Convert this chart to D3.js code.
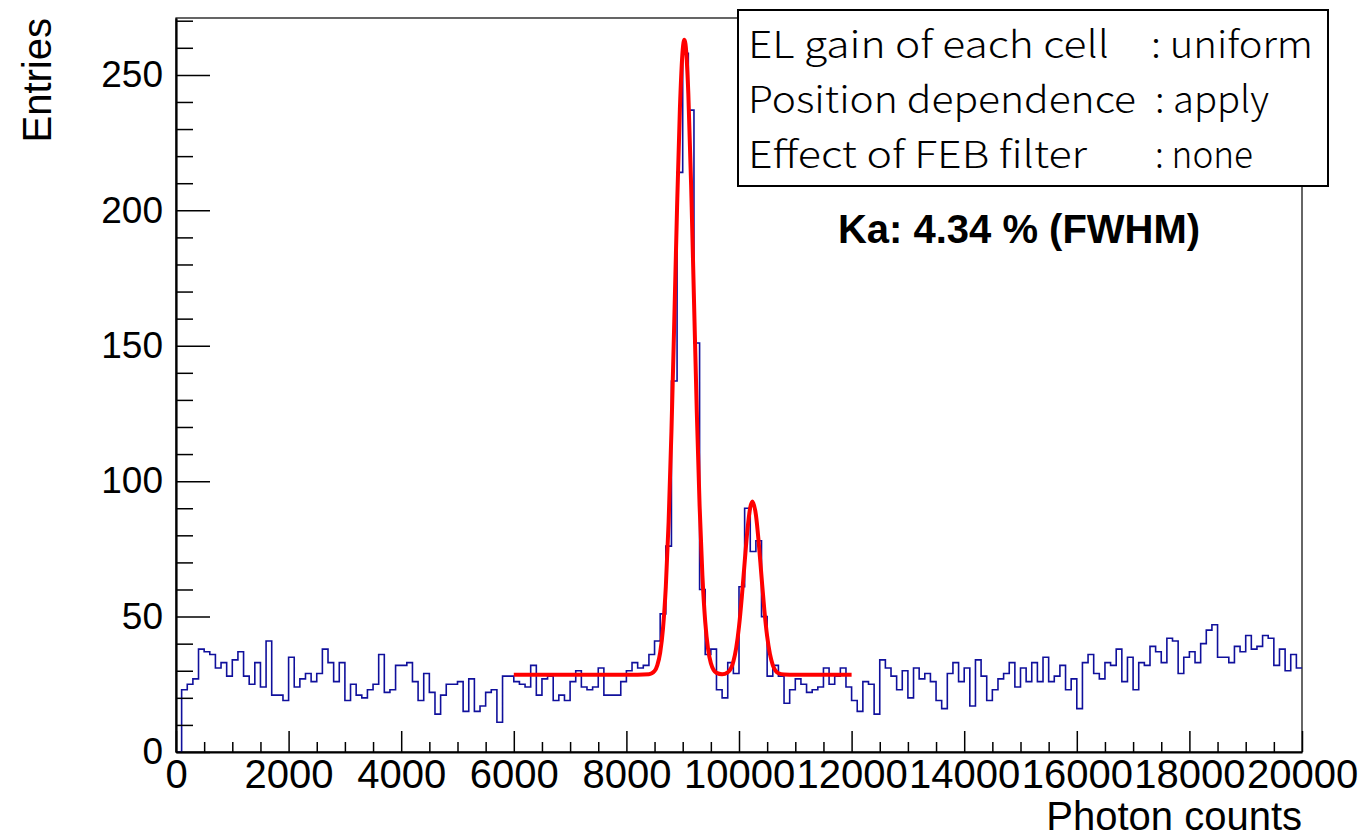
<!DOCTYPE html>
<html>
<head>
<meta charset="utf-8">
<script src="https://cdn.jsdelivr.net/npm/d3@7"></script>
<style>
  body { margin: 0; background: #fff; }
  svg { display: block; }
</style>
</head>
<body>
<svg id="chart" width="1364" height="840"></svg>
<script>
// histogram: 200 bins of 100 photon counts, 0..20000
var binWidth = 100;
var counts = [
  0, 23, 25, 27, 38, 37, 36, 31, 33, 28,
  34, 37, 28, 25, 33, 24, 41, 21, 21, 19,
  35, 24, 27, 29, 26, 29, 38, 33, 26, 33,
  19, 25, 21, 20, 23, 25, 36, 22, 23, 32,
  32, 33, 26, 19, 29, 22, 14, 21, 25, 25,
  26, 15, 27, 15, 17, 22, 23, 11, 28, 28,
  26, 25, 24, 32, 21, 27, 28, 19, 21, 19,
  26, 30, 24, 23, 24, 31, 21, 21, 21, 26,
  30, 33, 31, 32, 36, 41, 51, 76, 137, 214,
  258, 237, 151, 60, 36, 38, 23, 20, 33, 29,
  61, 90, 74, 78, 50, 28, 32, 28, 18, 23,
  27, 25, 22, 23, 24, 31, 25, 28, 31, 24,
  19, 15, 26, 25, 14, 34, 31, 28, 23, 30,
  20, 31, 27, 29, 26, 19, 16, 29, 33, 26,
  31, 17, 34, 28, 19, 23, 27, 29, 33, 24,
  31, 26, 33, 26, 35, 26, 28, 32, 23, 27,
  16, 33, 36, 29, 27, 33, 32, 38, 26, 35,
  23, 33, 32, 39, 37, 33, 42, 41, 29, 35,
  37, 33, 40, 45, 47, 35, 35, 33, 39, 37,
  43, 38, 39, 43, 42, 32, 38, 30, 36, 31
];

// fitted curve
var fitX = [6000, 8000, 8400, 8500, 8550, 8600, 8650, 8700, 8750, 8800,
  8850, 8900, 8950, 9000, 9030, 9050, 9100, 9150, 9200, 9250,
  9300, 9350, 9400, 9450, 9500, 9600, 9700, 9800, 9900, 9950,
  10000, 10050, 10100, 10150, 10200, 10240, 10300, 10350, 10400, 10450,
  10500, 10550, 10600, 10700, 10800, 11000, 12000];
var fitY = [28.5, 28.5, 28.7, 29.9, 32.1, 36.7, 45.6, 61.0, 85.0, 118.3,
  158.8, 201.1, 237.3, 259.2, 263.0, 261.3, 243.1, 209.1, 167.3, 125.9,
  91.0, 65.1, 48.1, 38.1, 32.8, 29.2, 28.7, 29.4, 33.4, 38.4,
  46.3, 57.2, 69.9, 82.0, 90.3, 92.5, 87.6, 77.4, 64.7, 52.5,
  42.7, 36.1, 32.1, 29.1, 28.6, 28.5, 28.5];

var xTicks = [0, 2000, 4000, 6000, 8000, 10000, 12000, 14000, 16000, 18000, 20000];
var yTicks = [0, 50, 100, 150, 200, 250];
var legendLabels = ["EL gain of each cell", "Position dependence", "Effect of FEB filter"];
var legendValues = [": uniform", ": apply", ": none"];
var resultText = "Ka: 4.34 % (FWHM)";

var svg = d3.select("#chart"),
  margin = { top: 18, left: 176, bottom: 88, right: 62 },
  width = +svg.attr("width") - margin.left - margin.right,
  height = +svg.attr("height") - margin.top - margin.bottom;

var x = d3.scaleLinear().domain([0, 20000]).range([margin.left, margin.left + width]);
var y = d3.scaleLinear().domain([0, 271]).range([margin.top + height, margin.top]);

// frame
svg.append("rect")
  .attr("x", margin.left).attr("y", margin.top)
  .attr("width", width).attr("height", height)
  .attr("fill", "none").attr("stroke", "#000").attr("stroke-width", 1.2);

// histogram outline
var steps = counts.map((c, i) => [i * binWidth, c]);
steps.push([counts.length * binWidth, counts[counts.length - 1]]);
svg.append("path")
  .datum(steps)
  .attr("fill", "none")
  .attr("stroke", "#10109c")
  .attr("stroke-width", 1.6)
  .attr("d", d3.line().x((d) => x(d[0])).y((d) => y(d[1])).curve(d3.curveStepAfter));

// fit
svg.append("path")
  .datum(fitX.map((v, i) => [v, fitY[i]]))
  .attr("fill", "none")
  .attr("stroke", "#ff0000")
  .attr("stroke-width", 4)
  .attr("stroke-linejoin", "round")
  .attr("d", d3.line().x((d) => x(d[0])).y((d) => y(d[1])).curve(d3.curveMonotoneX));

// axes
var xMinor = d3.range(0, 20001, 500).filter((v) => v % 2000 != 0);
var yMinor = d3.range(0, 271, 10).filter((v) => v % 50 != 0);

svg.append("g")
  .attr("transform", `translate(0,${margin.top + height})`)
  .call(d3.axisBottom(x).tickValues(xMinor).tickFormat("").tickSizeInner(-10).tickSizeOuter(0))
  .call((g) => g.select(".domain").remove());

var xAxis = svg.append("g")
  .attr("class", "x-axis")
  .attr("transform", `translate(0,${margin.top + height})`)
  .call(d3.axisBottom(x).tickValues(xTicks).tickFormat(d3.format("d")).tickSizeInner(-21).tickSizeOuter(0).tickPadding(8));

svg.append("g")
  .attr("transform", `translate(${margin.left},0)`)
  .call(d3.axisLeft(y).tickValues(yMinor).tickFormat("").tickSizeInner(-17).tickSizeOuter(0))
  .call((g) => g.select(".domain").remove());

var yAxis = svg.append("g")
  .attr("class", "y-axis")
  .attr("transform", `translate(${margin.left},0)`)
  .call(d3.axisLeft(y).tickValues(yTicks).tickSizeInner(-34).tickSizeOuter(0).tickPadding(13));

svg.selectAll(".tick line").attr("stroke", "#000").attr("stroke-width", 1.5);
svg.selectAll(".domain").attr("stroke", "#000").attr("stroke-width", 2.2);

xAxis.selectAll("text")
  .attr("font-family", "Liberation Sans, Arial, sans-serif")
  .attr("font-size", 40).attr("fill", "#000");
yAxis.selectAll("text")
  .attr("font-family", "Liberation Sans, Arial, sans-serif")
  .attr("font-size", 37).attr("fill", "#000");

// axis titles
svg.append("text")
  .attr("x", margin.left + width).attr("y", 830)
  .attr("text-anchor", "end")
  .attr("font-family", "Liberation Sans, Arial, sans-serif")
  .attr("font-size", 40)
  .text("Photon counts");

svg.append("text")
  .attr("transform", `translate(51,${margin.top}) rotate(-90)`)
  .attr("text-anchor", "end")
  .attr("font-family", "Liberation Sans, Arial, sans-serif")
  .attr("font-size", 40)
  .text("Entries");

// legend box
var legend = svg.append("g");
legend.append("rect")
  .attr("x", 738).attr("y", 10).attr("width", 590).attr("height", 176)
  .attr("fill", "#fff").attr("stroke", "#000").attr("stroke-width", 2);

// widths the wide legend font takes in the reference
var labelWidths = [361, 388, 339],
  valueWidths = [162, 114, 98],
  rowY = (i) => 58 + i * 55;

legend.selectAll("text.lab")
  .data(legendLabels)
  .enter().append("text")
  .attr("class", "lab")
  .attr("x", 748)
  .attr("y", (d, i) => rowY(i))
  .attr("textLength", (d, i) => labelWidths[i])
  .attr("lengthAdjust", "spacingAndGlyphs")
  .attr("font-family", "Noto Sans CJK JP, Noto Sans, sans-serif")
  .attr("font-weight", 300)
  .attr("font-size", 37)
  .text((d) => d);

legend.selectAll("text.val")
  .data(legendValues)
  .enter().append("text")
  .attr("class", "val")
  .attr("x", (d, i) => (i == 0 ? 1151 : 1155))
  .attr("y", (d, i) => rowY(i))
  .attr("textLength", (d, i) => valueWidths[i])
  .attr("lengthAdjust", "spacingAndGlyphs")
  .attr("font-family", "Noto Sans CJK JP, Noto Sans, sans-serif")
  .attr("font-weight", 300)
  .attr("font-size", 37)
  .text((d) => d);

svg.append("text")
  .attr("x", 1019).attr("y", 243)
  .attr("text-anchor", "middle")
  .attr("font-family", "Liberation Sans, Arial, sans-serif")
  .attr("font-weight", "bold")
  .attr("font-size", 40)
  .text(resultText);
</script>
</body>
</html>
